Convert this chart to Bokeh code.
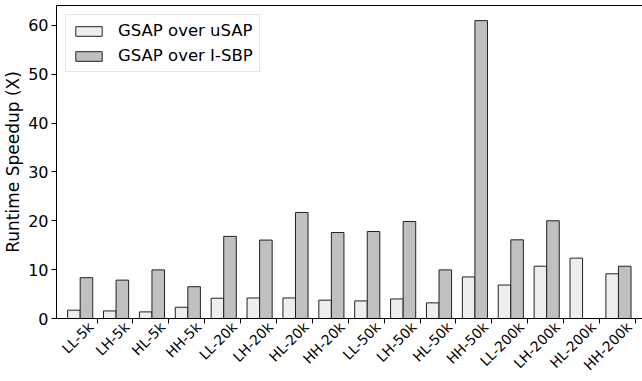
import math
from bokeh.plotting import figure
from bokeh.models import (ColumnDataSource, Range1d, FixedTicker, LinearAxis,
                          Legend, LegendItem)
from bokeh.embed import file_html
from bokeh.resources import INLINE

# Workload configurations and measured speedups
configs = ["LL-5k", "LH-5k", "HL-5k", "HH-5k",
           "LL-20k", "LH-20k", "HL-20k", "HH-20k",
           "LL-50k", "LH-50k", "HL-50k", "HH-50k",
           "LL-200k", "LH-200k", "HL-200k", "HH-200k"]
speedup_usap = [1.7, 1.55, 1.35, 2.3,
                4.15, 4.2, 4.2, 3.75,
                3.6, 4.0, 3.2, 8.5,
                6.85, 10.7, 12.35, 9.15]
speedup_isbp = [8.35, 7.85, 9.95, 6.5,
                16.8, 16.05, 21.7, 17.6,
                17.8, 19.85, 9.95, 60.95,
                16.1, 20.0, 0.0, 10.7]
y_ticks = [0, 10, 20, 30, 40, 50, 60]

FONT = "DejaVu Sans"
BAR_W = 0.35
GROUP_SHIFT = 0.47   # bar groups sit left of their tick
X_START, X_END = -1.13, 15.2
NAME_SHIFT = 0.17    # rotated names end just left of their tick

idx = list(range(len(configs)))
src = ColumnDataSource(dict(
    x_usap=[i - GROUP_SHIFT - BAR_W / 2 for i in idx],
    x_isbp=[i - GROUP_SHIFT + BAR_W / 2 for i in idx],
    usap=speedup_usap,
    isbp=speedup_isbp,
))

p = figure(width=642, height=381, output_backend="svg", toolbar_location=None,
           x_range=Range1d(X_START, X_END), y_range=Range1d(0, 64.05),
           min_border_left=55, min_border_right=0, min_border_top=5,
           min_border_bottom=61)
p.extra_x_ranges = {"names": Range1d(X_START + NAME_SHIFT, X_END + NAME_SHIFT)}
p.outline_line_color = None
p.xgrid.visible = False
p.ygrid.visible = False
p.background_fill_color = "white"
p.border_fill_color = "white"

r1 = p.vbar(x="x_usap", top="usap", width=BAR_W, bottom=0, source=src,
            fill_color="#eeeeee", line_color="#222222", line_width=1)
r2 = p.vbar(x="x_isbp", top="isbp", width=BAR_W, bottom=0, source=src,
            fill_color="#c0c0c0", line_color="#222222", line_width=1)

# x axis line and ticks
xa = p.xaxis[0]
xa.ticker = FixedTicker(ticks=idx)
xa.major_label_text_color = None
xa.major_label_text_font_size = "0px"
xa.major_label_standoff = 0
xa.major_tick_in = 0
xa.major_tick_out = 5
xa.minor_tick_line_color = None
xa.axis_line_color = "black"

# configuration names, rotated 45 degrees
names = LinearAxis(x_range_name="names", ticker=FixedTicker(ticks=idx),
                   major_label_overrides={i: c for i, c in zip(idx, configs)},
                   major_label_orientation=math.pi / 4,
                   major_label_text_font=FONT, major_label_text_font_size="14px",
                   major_label_text_color="black", major_label_standoff=1,
                   major_tick_in=0, major_tick_out=0,
                   major_tick_line_color=None, minor_tick_line_color=None,
                   axis_line_color=None)
p.add_layout(names, "below")

ya = p.yaxis[0]
ya.ticker = FixedTicker(ticks=y_ticks)
ya.major_label_text_font = FONT
ya.major_label_text_font_size = "16px"
ya.major_label_text_color = "black"
ya.major_label_standoff = 3
ya.major_tick_in = 0
ya.major_tick_out = 5
ya.minor_tick_line_color = None
ya.axis_line_color = "black"
ya.axis_label = "Runtime Speedup (X)"
ya.axis_label_text_font = FONT
ya.axis_label_text_font_size = "17px"
ya.axis_label_text_font_style = "normal"
ya.axis_label_text_color = "black"
ya.axis_label_standoff = 2

# top spine only
top = LinearAxis(ticker=FixedTicker(ticks=[]), major_tick_out=0, major_tick_in=0,
                 minor_tick_out=0, major_label_standoff=0,
                 axis_line_color="black")
p.add_layout(top, "above")

legend = Legend(items=[LegendItem(label="GSAP over uSAP", renderers=[r1]),
                       LegendItem(label="GSAP over I-SBP", renderers=[r2])],
                location="top_left")
legend.label_text_font = FONT
legend.label_text_font_size = "16.5px"
legend.label_text_color = "black"
legend.glyph_width = 33
legend.glyph_height = 12
legend.label_standoff = 13
legend.spacing = 6
legend.padding = 6
legend.margin = 9
legend.border_line_color = "#cccccc"
legend.border_line_width = 1
legend.background_fill_alpha = 0.8
p.add_layout(legend)

open("out.html", "w").write(file_html(p, INLINE))
